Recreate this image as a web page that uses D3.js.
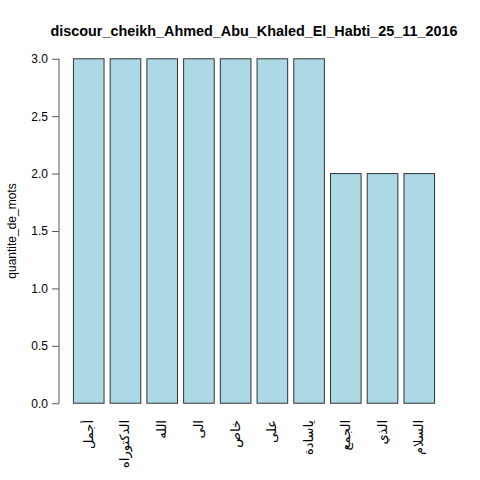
<!DOCTYPE html>
<html>
<head>
<meta charset="utf-8">
<script src="https://cdn.jsdelivr.net/npm/d3@7"></script>
<style>
  body { margin: 0; background: #fff; }
  text { font-family: "Liberation Sans", Arial, "DejaVu Sans", sans-serif; }
</style>
</head>
<body>
<div id="chart"></div>
<script>
// word counts from the speech
var words = ["أجمل", "الدكتوراه", "الله", "الى", "خاص", "على", "ياسادة", "الجمع", "الذي", "السلام"];
var counts = [3, 3, 3, 3, 3, 3, 3, 2, 2, 2];
var yTicks = [0, 0.5, 1, 1.5, 2, 2.5, 3];
var title = "discour_cheikh_Ahmed_Abu_Khaled_El_Habti_25_11_2016";
var yTitle = "quantite_de_mots";

var W = 480, H = 480;
var plotLeft = 59, plotRight = 449, plotTop = 45, plotBottom = 417;

var svg = d3.select("#chart").append("svg")
    .attr("width", W)
    .attr("height", H);

// R style barplot: width 1, space 0.2, 4% padding
var n = words.length;
var xmax = n * 1.2;
var padX = (xmax - 0.2) * 0.04;
var x = d3.scaleLinear()
    .domain([0.2 - padX, xmax + padX])
    .range([plotLeft, plotRight]);

var y = d3.scaleLinear()
    .domain([-0.12, 3.12])
    .range([plotBottom, plotTop]);

svg.append("g")
    .selectAll("rect")
    .data(counts)
    .enter().append("rect")
    .attr("x", function (d, i) { return x(0.2 + i * 1.2); })
    .attr("width", function () { return x(1) - x(0); })
    .attr("y", function (d) { return y(d); })
    .attr("height", function (d) { return y(0) - y(d); })
    .attr("fill", "#add8e6")
    .attr("stroke", "#333")
    .attr("stroke-width", 1);

// y axis
var yAxis = d3.axisLeft(y)
    .tickValues(yTicks)
    .tickSize(7)
    .tickPadding(4)
    .tickFormat(d3.format(".1f"));

var gy = svg.append("g")
    .attr("transform", "translate(" + plotLeft + ",0)")
    .call(yAxis);
gy.select(".domain")
    .attr("d", "M0," + y(0) + "V" + y(3))
    .attr("stroke", "#555");
gy.selectAll(".tick line").attr("stroke", "#555");
gy.selectAll(".tick text")
    .attr("font-size", 12)
    .attr("fill", "#000")
    .style("font-family", "Liberation Sans, Arial, sans-serif");

// x labels, vertical
svg.append("g")
    .selectAll("text")
    .data(words)
    .enter().append("text")
    .attr("transform", function (d, i) {
        var cx = x(0.2 + i * 1.2 + 0.5) + 4;
        return "translate(" + cx + "," + 420 + ")rotate(-90)";
    })
    .attr("text-anchor", "end")
    .attr("font-size", 13)
    .style("font-family", "DejaVu Sans, sans-serif")
    .text(function (d) { return d; });

// titles
svg.append("text")
    .attr("x", (plotLeft + plotRight) / 2)
    .attr("y", 36)
    .attr("text-anchor", "middle")
    .attr("font-size", 14.4)
    .attr("font-weight", "bold")
    .text(title);

svg.append("text")
    .attr("transform", "translate(16," + y(1.5) + ")rotate(-90)")
    .attr("text-anchor", "middle")
    .attr("font-size", 12)
    .text(yTitle);
</script>
</body>
</html>
